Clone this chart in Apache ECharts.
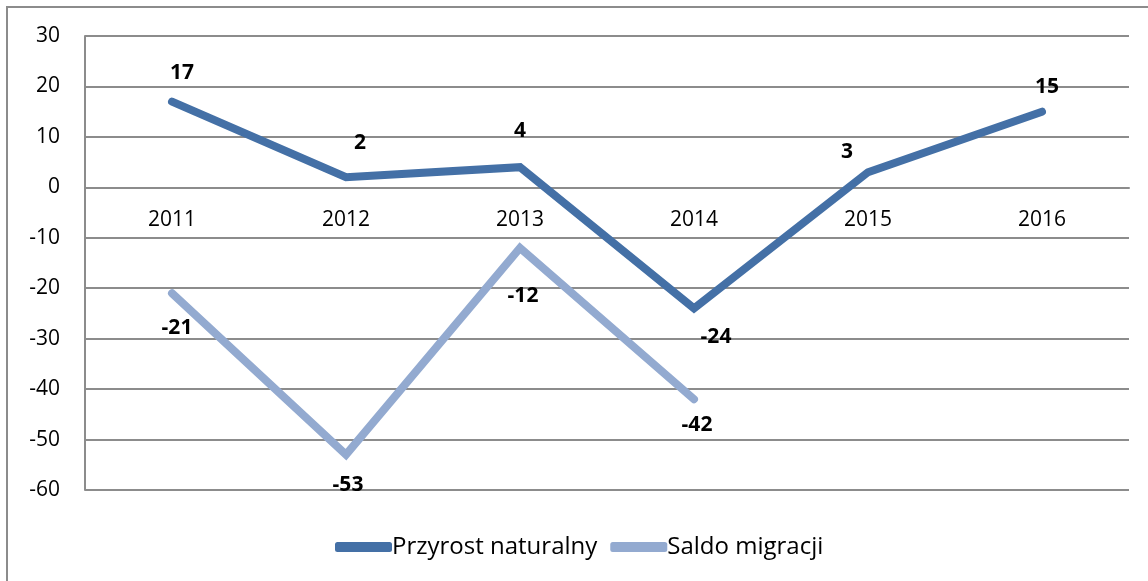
<!DOCTYPE html>
<html>
<head>
<meta charset="utf-8">
<script src="https://cdn.jsdelivr.net/npm/echarts@6/dist/echarts.min.js"></script>
<style>
  html, body { margin: 0; padding: 0; background: #fff; }
  #chart { width: 1148px; height: 581px; }
</style>
</head>
<body>
<div id="chart"></div>
<script>
const years = ["2011", "2012", "2013", "2014", "2015", "2016"];
const przyrost = [17, 2, 4, -24, 3, 15];
const saldo = [-21, -53, -12, -42];
// label offsets (px) as placed in the original
const przyrostOffsets = [[10, -29], [14, -34], [0, -36], [22, 29], [-21, -20], [5, -25]];
const saldoOffsets = [[5, 35], [2, 30], [3, 48], [3, 26]];

const font = "'Open Sans', 'Noto Sans', sans-serif";
const chart = echarts.init(document.getElementById("chart"));

const gridTop = 36, gridBottom = 91, chartH = 581;
const plotH = chartH - gridTop - gridBottom;
// category axis sits on the zero line
const zeroOffset = -plotH * 60 / 90;

function withLabels(values, offsets) {
  return values.map((v, i) => ({
    value: v,
    label: { position: "inside", offset: offsets[i] },
  }));
}

const labelStyle = {
  show: true,
  fontSize: 21,
  fontWeight: "bold",
  color: "#000",
  fontFamily: font,
};

chart.setOption({
  animation: false,
  textStyle: { fontFamily: font },
  grid: { left: 85, right: 19, top: gridTop, bottom: gridBottom, containLabel: false },
  graphic: [
    {
      type: "rect",
      shape: { x: 7, y: 7, width: 1160, height: 600 },
      style: { fill: "none", stroke: "#8c8c8c", lineWidth: 2 },
      silent: true,
    },
  ],
  legend: {
    bottom: 17,
    left: 330,
    itemWidth: 57,
    itemHeight: 10,
    itemGap: 13,
    icon: "roundRect",
    textStyle: { fontSize: 24, color: "#000", fontFamily: font, padding: [0, 0, 0, -5] },
    data: ["Przyrost naturalny", "Saldo migracji"],
  },
  xAxis: {
    type: "category",
    data: years,
    boundaryGap: true,
    offset: zeroOffset,
    axisLine: { show: true, onZero: false, lineStyle: { color: "#8c8c8c", width: 2 } },
    axisTick: { show: false },
    axisLabel: { margin: 22, fontSize: 21, color: "#000", fontFamily: font },
  },
  yAxis: {
    type: "value",
    min: -60,
    max: 30,
    interval: 10,
    axisLine: { show: true, lineStyle: { color: "#8c8c8c", width: 2 } },
    axisTick: { show: false },
    axisLabel: { margin: 25, fontSize: 21, color: "#000", fontFamily: font },
    splitLine: { lineStyle: { color: "#8c8c8c", width: 2 } },
  },
  series: [
    {
      name: "Przyrost naturalny",
      type: "line",
      data: withLabels(przyrost, przyrostOffsets),
      showSymbol: true,
      symbol: "circle",
      symbolSize: 1,
      color: "#4470a6",
      lineStyle: { width: 8, cap: "round", join: "miter" },
      label: labelStyle,
    },
    {
      name: "Saldo migracji",
      type: "line",
      data: withLabels(saldo, saldoOffsets),
      showSymbol: true,
      symbol: "circle",
      symbolSize: 1,
      color: "#93aad0",
      lineStyle: { width: 8, cap: "round", join: "miter" },
      label: labelStyle,
    },
  ],
});
</script>
</body>
</html>
